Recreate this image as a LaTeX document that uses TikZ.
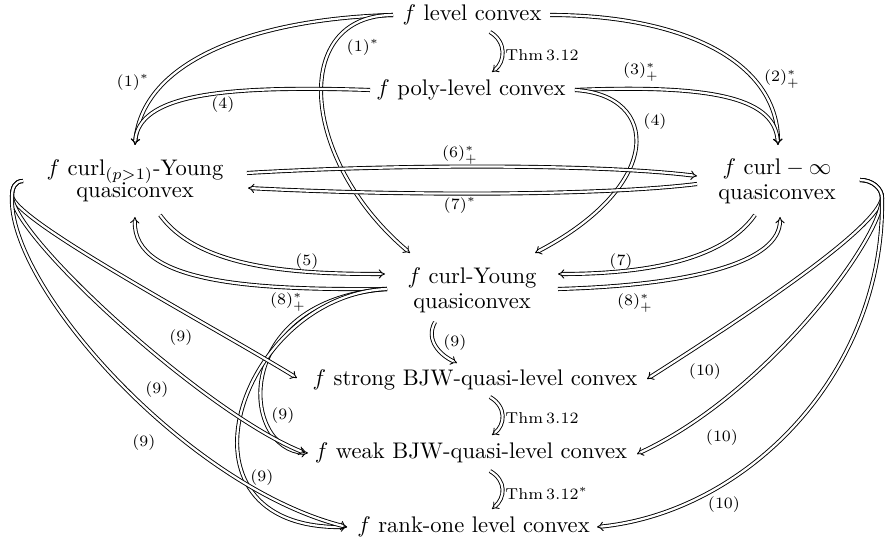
\documentclass[tikz,border=0pt]{standalone}
\usetikzlibrary{arrows.meta,calc}
\begin{document}
\begin{tikzpicture}[x=0.443pt,y=-0.443pt,
  imp/.style={double,double distance=1pt,line width=0.4pt,-{Implies}},
  lab/.style={font=\scriptsize,inner sep=0pt},
  stmt/.style={inner sep=0pt,align=center}]
\useasboundingbox (0,0) rectangle (890,541);

% statements
\node[stmt] (L) at (472,15) {$f$ level convex};
\node[stmt] (P) at (471,90) {$f$ poly-level convex};
\node[stmt] (Y) at (135,181) {$f$ curl$_{(p>1)}$-Young\\[-2pt] quasiconvex};
\node[stmt] (I) at (777,181) {$f$ $\mathrm{curl}-\infty$\\[-1pt] quasiconvex};
\node[stmt] (C) at (472,290) {$f$ curl-Young\\[-1pt] quasiconvex};
\node[stmt] (S) at (475,380) {$f$ strong BJW-quasi-level convex};
\node[stmt] (W) at (471,453) {$f$ weak BJW-quasi-level convex};
\node[stmt] (R) at (473.5,527) {$f$ rank-one level convex};

% hooks where the fans of (9) and (10) leave
\coordinate (Yh) at ($(Y)+(-123,15)$);
\coordinate (Ih) at ($(I)+(105,17)$);

% Thm 3.12 links in the middle column
\draw[imp] ($(L)+(18,17)$) .. controls +(17,10) and +(13,-10) .. ($(P)+(21,-18)$);
\draw[imp] ($(S)+(15,17)$) .. controls +(17,10) and +(13,-10) .. ($(W)+(21,-18)$);
\draw[imp] ($(W)+(19,18)$) .. controls +(17,10) and +(13,-11) .. ($(R)+(18.5,-18)$);

% from level convex
\draw[imp] ($(L)+(-79,0)$) .. controls +(-125,3) and +(8,-90) .. ($(Y)+(0,-36)$);
\draw[imp] ($(L)+(-79,0)$) .. controls +(-103,0) and +(-110,-93) .. ($(C)+(-62,-37)$);
\draw[imp] ($(L)+(78,0)$) .. controls +(130,0) and +(0,-85) .. ($(I)+(1,-36)$);

% from poly-level convex
\draw[imp] ($(P)+(-101,0)$) .. controls +(-150,-5) and +(3,-50) .. ($(Y)+(0,-36)$);
\draw[imp] ($(P)+(104,0)$) .. controls +(145,-6) and +(-3,-45) .. ($(I)+(1,-36)$);
\draw[imp] ($(P)+(104,0)$) .. controls +(85,5) and +(130,-68) .. ($(C)+(63,-37)$);

% between the two curl quasiconvexities
\draw[imp] ($(Y)+(112,-8)$) .. controls +(153,-9) and +(-97,-12) .. ($(I)+(-80,-5)$);
\draw[imp] ($(I)+(-80,3)$) .. controls +(-97,12) and +(152,8) .. ($(Y)+(113,7)$);

% to and from curl-Young
\draw[imp] ($(Y)+(25,34)$) .. controls +(40,55) and +(-85,0) .. ($(C)+(-87,-16)$);
\draw[imp] ($(C)+(-85,-1)$) .. controls +(-127,1) and +(-3,68) .. ($(Y)+(0,36)$);
\draw[imp] ($(I)+(-22,34)$) .. controls +(-35,50) and +(72,0) .. ($(C)+(86,-16)$);
\draw[imp] ($(C)+(86,-1)$) .. controls +(142,-4) and +(0,43) .. ($(I)+(3,36)$);
\draw[imp] ($(C)+(-37,32)$) .. controls +(-10,18) and +(-17,-8) .. ($(S)+(-18,-17)$);

% (9) from curl-Young to the lower statements
\draw[imp] ($(C)+(-85,-1)$) .. controls +(-157,11) and +(-68,-3) .. ($(W)+(-163,0)$);
\draw[imp] ($(C)+(-85,-1)$) .. controls +(-147,6) and +(-187,3) .. ($(R)+(-126.5,0)$);

% (9) fan from the p>1 statement
\draw[imp] ($(Y)+(-112,0)$) .. controls +(-8,0) and +(0,-8) .. (Yh)
  .. controls +(3,25) and +(-90,-55) .. ($(S)+(-178,-2)$);
\draw[imp] ($(Y)+(-112,0)$) .. controls +(-8,0) and +(0,-8) .. (Yh)
  .. controls +(0,40) and +(-100,-40) .. ($(W)+(-166,0)$);
\draw[imp] ($(Y)+(-112,0)$) .. controls +(-8,0) and +(0,-8) .. (Yh)
  .. controls +(-5,90) and +(-160,-40) .. ($(R)+(-126.5,0)$);

% (10) fan from the curl minus infinity statement
\draw[imp] ($(I)+(83,-1)$) .. controls +(12,0) and +(0,-10) .. (Ih)
  .. controls +(-5,30) and +(110,-70) .. ($(S)+(172,-1)$);
\draw[imp] ($(I)+(83,-1)$) .. controls +(12,0) and +(0,-10) .. (Ih)
  .. controls +(0,40) and +(130,-60) .. ($(W)+(166,1)$);
\draw[imp] ($(I)+(83,-1)$) .. controls +(12,0) and +(0,-10) .. (Ih)
  .. controls +(3,175) and +(150,-15) .. ($(R)+(123.5,0)$);

% labels
\node[lab] (n1a) at (133,82) {$(1)^*$};
\node[lab] (n1b) at (363,47) {$(1)^*$};
\node[lab] (n4a) at (223,105) {$(4)$};
\node[lab] (n3) at (641,72) {$(3)^*_+$};
\node[lab] (n2) at (782,79) {$(2)^*_+$};
\node[lab] (n4b) at (655,122) {$(4)$};
\node[lab] (n6) at (460,155) {$(6)^*_+$};
\node[lab] (n7a) at (460,205) {$(7)^*$};
\node[lab] (n5) at (307,262) {$(5)$};
\node[lab] (n8a) at (288,302) {$(8)^*_+$};
\node[lab] (n7b) at (621,262) {$(7)$};
\node[lab] (n8b) at (635,303) {$(8)^*_+$};
\node[lab] (n9a) at (455,343) {$(9)$};
\node[lab] (n9b) at (181,338) {$(9)$};
\node[lab] (n9c) at (157,390) {$(9)$};
\node[lab] (n9d) at (144,443) {$(9)$};
\node[lab] (n9e) at (283,416) {$(9)$};
\node[lab] (n9f) at (262,478) {$(9)$};
\node[lab] (n10a) at (705,372) {$(10)$};
\node[lab] (n10b) at (722,438) {$(10)$};
\node[lab] (n10c) at (724,505) {$(10)$};
\node[lab,anchor=west] (t1) at (505,55) {$\mathrm{Thm}\,3.12$};
\node[lab,anchor=west] (t2) at (505,418) {$\mathrm{Thm}\,3.12$};
\node[lab,anchor=west] (t3) at (505,493) {$\mathrm{Thm}\,3.12^*$};
\end{tikzpicture}
\end{document}
